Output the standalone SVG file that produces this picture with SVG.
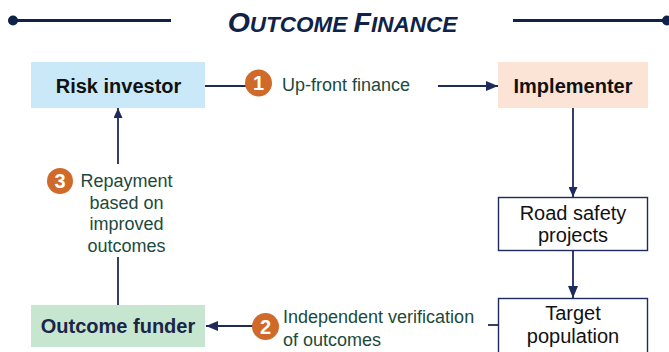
<svg xmlns="http://www.w3.org/2000/svg" width="669" height="352" viewBox="0 0 669 352">
<style>
.t{font-family:"Liberation Sans",Arial,sans-serif}
.b{font-weight:bold;font-size:20px;fill:#111;text-anchor:middle}
.n{font-size:20px;fill:#111;text-anchor:middle}
.l{font-size:18px;fill:#1b4a3b}
.c{fill:#cf6a2b}
.cn{font-weight:bold;font-size:20px;fill:#fff;text-anchor:middle}
.ln{stroke:#1f2a5c;stroke-width:1.8;fill:none}
</style>
<defs>
<marker id="ah" viewBox="0 0 10 10" refX="10" refY="5" markerWidth="10" markerHeight="9" markerUnits="userSpaceOnUse" orient="auto" preserveAspectRatio="none"><path d="M0,0L10,5L0,10z" fill="#1f2a5c"/></marker>
<marker id="ah2" viewBox="0 0 10 10" refX="10" refY="5" markerWidth="12" markerHeight="10" markerUnits="userSpaceOnUse" orient="auto" preserveAspectRatio="none"><path d="M0,0L10,5L0,10z" fill="#1f2a5c"/></marker>
</defs>
<g id="title">
<line x1="13" y1="20.5" x2="171" y2="20.5" stroke="#0f2247" stroke-width="3"/>
<circle cx="13" cy="20.5" r="5" fill="#0f2247"/>
<line x1="513" y1="20.5" x2="667" y2="20.5" stroke="#0f2247" stroke-width="3"/>
<circle cx="667" cy="20.5" r="5" fill="#0f2247"/>
<text class="t" x="342.5" y="32" text-anchor="middle" font-weight="bold" font-style="italic" fill="#0f2247"><tspan font-size="28.5">O</tspan><tspan font-size="22.5">UTCOME </tspan><tspan font-size="28.5">F</tspan><tspan font-size="22.5">INANCE</tspan></text>
</g>
<g id="connectors">
<line class="ln" x1="205" y1="86" x2="246" y2="86"/>
<line class="ln" x1="438" y1="86" x2="498" y2="86" marker-end="url(#ah2)"/>
<line class="ln" x1="573" y1="108" x2="573" y2="197" marker-end="url(#ah)"/>
<line class="ln" x1="573" y1="251" x2="573" y2="298" marker-end="url(#ah2)"/>
<line class="ln" x1="498" y1="325" x2="488" y2="325"/>
<line class="ln" x1="253" y1="326" x2="206" y2="326" marker-end="url(#ah2)"/>
<line class="ln" x1="118" y1="305" x2="118" y2="257"/>
<line class="ln" x1="118" y1="164" x2="118" y2="108" marker-end="url(#ah)"/>
</g>
<g id="risk-investor">
<rect x="31" y="62" width="174" height="46" fill="#c9e9f8"/>
<text class="t b" x="118.5" y="93">Risk investor</text>
</g>
<g id="implementer">
<rect x="498" y="62" width="150" height="46" fill="#fbe4d5"/>
<text class="t b" x="573" y="93">Implementer</text>
</g>
<g id="road-safety">
<rect x="498.5" y="197.5" width="149" height="53" fill="#fff" stroke="#1f2a5c" stroke-width="1.4"/>
<text class="t n" x="573" y="220">Road safety</text>
<text class="t n" x="573" y="242">projects</text>
</g>
<g id="target">
<rect x="498.5" y="298.5" width="149" height="56" fill="#fff" stroke="#1f2a5c" stroke-width="1.4"/>
<text class="t n" x="573" y="320">Target</text>
<text class="t n" x="573" y="343">population</text>
</g>
<g id="outcome-funder">
<rect x="31" y="305" width="174" height="42" fill="#c6e6d0"/>
<text class="t b" x="118" y="333" style="fill:#1a2547">Outcome funder</text>
</g>
<g id="label1">
<circle class="c" cx="258.5" cy="83" r="13.5"/>
<text class="t cn" x="258.5" y="90">1</text>
<text class="t l" x="282" y="91">Up-front finance</text>
</g>
<g id="label2">
<circle class="c" cx="265.5" cy="326.5" r="13.5"/>
<text class="t cn" x="265.5" y="333.5">2</text>
<text class="t l" x="283" y="323">Independent verification</text>
<text class="t l" x="283" y="346">of outcomes</text>
</g>
<g id="label3">
<circle class="c" cx="60" cy="181" r="13"/>
<text class="t cn" x="60" y="188">3</text>
<text class="t l" x="126.5" y="187" text-anchor="middle">Repayment</text>
<text class="t l" x="126.5" y="208.5" text-anchor="middle">based on</text>
<text class="t l" x="126.5" y="230" text-anchor="middle">improved</text>
<text class="t l" x="126.5" y="251.5" text-anchor="middle">outcomes</text>
</g>
</svg>
